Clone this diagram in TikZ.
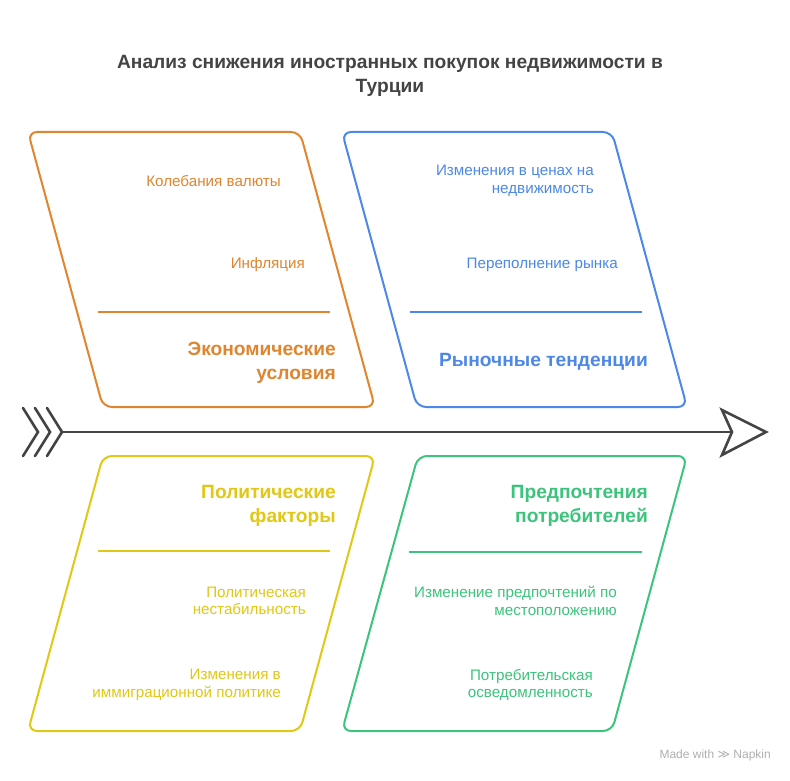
\documentclass[tikz,border=0pt]{standalone}
\usepackage{fontspec}
\setmainfont{Liberation Sans}
\newfontfamily\symfont{DejaVu Sans}
\definecolor{cOr}{HTML}{E0852F}
\definecolor{cBl}{HTML}{4D88E6}
\definecolor{cYe}{HTML}{E0C814}
\definecolor{cGr}{HTML}{3CC47C}
\definecolor{cDk}{HTML}{444444}
\definecolor{cWm}{HTML}{B0B0B0}
\begin{document}
\begin{tikzpicture}[x=1pt,y=-1pt,
  boxline/.style={line width=2pt, rounded corners=9pt, line join=round},
  divline/.style={line width=2pt},
  item/.style={font=\fontsize{15.2}{17.5}\selectfont, align=right, inner sep=0pt, anchor=east},
  cat/.style={font=\bfseries\fontsize{19.2}{24.5}\selectfont, align=right, inner sep=0pt, anchor=east},
  spine/.style={line width=2.6pt, draw=cDk, line cap=round, line join=miter}]
\useasboundingbox (0,0) rectangle (790,781);
\fill[white] (0,0) rectangle (790,781);

% title
\node[font=\bfseries\fontsize{19.2}{24}\selectfont, text=cDk, align=center, inner sep=0pt] (title) at (390,76)
  {Анализ снижения иностранных покупок недвижимости в\\Турции};

% boxes
\draw[boxline, cOr] (28,132) -- (300,132) -- (375,407) -- (103,407) -- cycle;
\draw[boxline, cBl] (342,132) -- (612,132) -- (687,407) -- (417,407) -- cycle;
\draw[boxline, cYe] (103,456) -- (375,456) -- (300,731) -- (28,731) -- cycle;
\draw[boxline, cGr] (418,456) -- (687,456) -- (612,731) -- (342,731) -- cycle;

% dividers
\draw[divline, cOr] (98,312) -- (330,312);
\draw[divline, cBl] (410,312) -- (642,312);
\draw[divline, cYe] (98,551) -- (330,551);
\draw[divline, cGr] (409,552) -- (642,552);

% orange texts
\node[item, text=cOr] (o1) at (281,181) {Колебания валюты};
\node[item, text=cOr] (o2) at (305,265) {Инфляция};
\node[cat, text=cOr] (oc) at (336,363) {Экономические\\условия};

% blue texts
\node[item, text=cBl] (b1) at (594,181) {Изменения в ценах на\\недвижимость};
\node[item, text=cBl] (b2) at (618,265) {Переполнение рынка};
\node[cat, text=cBl] (bc) at (648,362) {Рыночные тенденции};

% yellow texts
\node[cat, text=cYe] (yc) at (336,506) {Политические\\факторы};
\node[item, text=cYe] (y1) at (306,601) {Политическая\\нестабильность};
\node[item, text=cYe] (y2) at (281,685) {Изменения в\\иммиграционной политике};

% green texts
\node[cat, text=cGr] (gc) at (648,506) {Предпочтения\\потребителей};
\node[item, text=cGr] (g1) at (617,601) {Изменение предпочтений по\\местоположению};
\node[item, text=cGr] (g2) at (593,685) {Потребительская\\осведомленность};

% spine
\coordinate (tailA) at (62,432);
\coordinate (notch) at (732,432);
\draw[spine] (tailA) -- (notch);
\draw[spine] (23,408) -- (38,432) -- (23,456);
\draw[spine] (35,408) -- (50,432) -- (35,456);
\draw[spine] (47,408) -- (62,432) -- (47,456);
\draw[spine, line join=miter] (notch) -- (722,410) -- (766,432) -- (722,455) -- cycle;

% watermark
\node[font=\fontsize{12}{14}\selectfont, text=cWm, inner sep=0pt, anchor=east] (wm) at (771,755) {Made with {\symfont ≫} Napkin};
\end{tikzpicture}
\end{document}
